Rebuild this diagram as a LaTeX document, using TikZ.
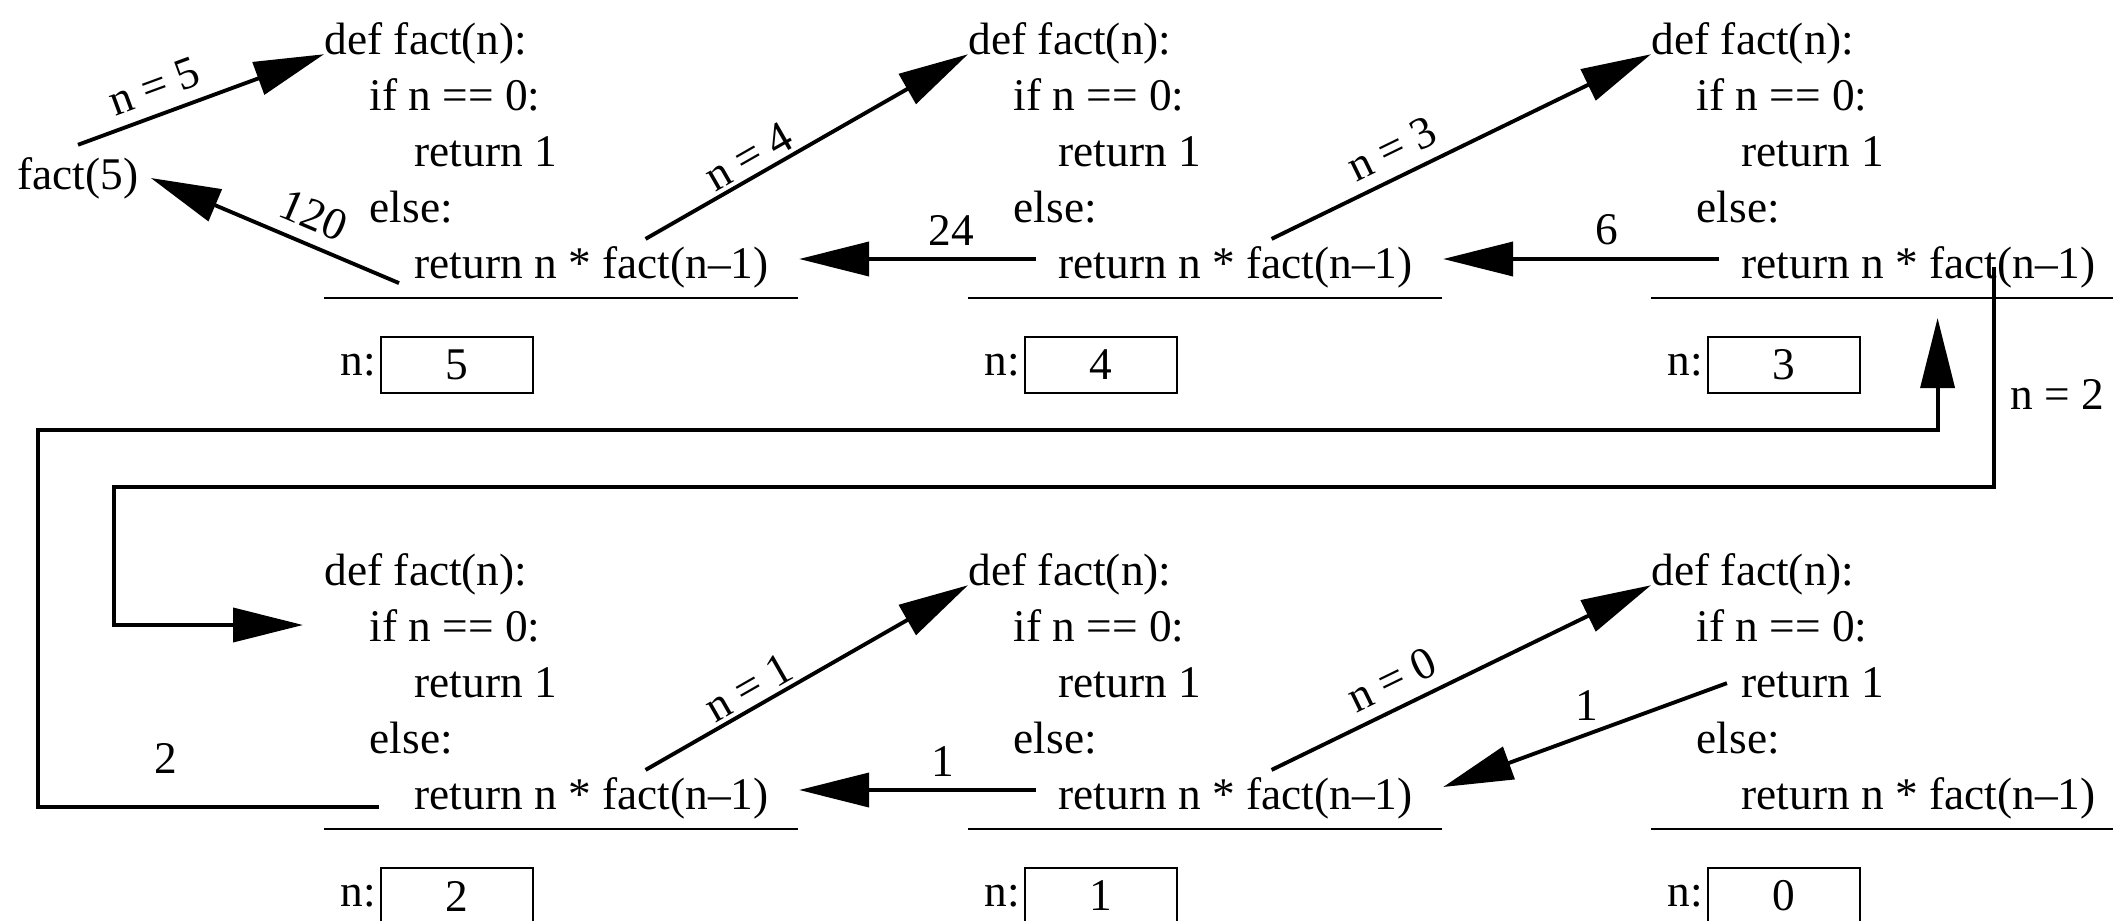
\documentclass[tikz,border=0pt]{standalone}
\usepackage{fontspec}
\setmainfont{Liberation Serif}
\usetikzlibrary{arrows.meta}
\begin{document}
\begin{tikzpicture}[every node/.style={font=\fontsize{12.9}{15}\selectfont}]
  \tikzset{
    code/.style={anchor=west,inner sep=0pt,text height=9pt,text depth=2.6pt},
    sepline/.style={line width=0.4pt},
    valbox/.style={draw,line width=0.45pt,minimum width=1.52cm,minimum height=0.56cm,inner sep=0pt},
    arr/.style={line width=1.1pt,-{Triangle[length=7mm,width=3.4mm]}}
  }
  \useasboundingbox (0,0) rectangle (21.13,-9.21);
  \foreach \f/\x/\y/\v in {t1/3.24/-0.43/5, t2/9.68/-0.43/4, t3/16.51/-0.43/3,
                           b1/3.24/-5.74/2, b2/9.68/-5.74/1, b3/16.51/-5.74/0} {
    \node[code] (\f-def) at (\x,\y) {def fact(n):};
    \node[code] (\f-if) at (\x+0.45,\y-0.56) {if n == 0:};
    \node[code] (\f-r1) at (\x+0.90,\y-1.12) {return 1};
    \node[code] (\f-else) at (\x+0.45,\y-1.68) {else:};
    \node[code] (\f-rn) at (\x+0.90,\y-2.24) {return n * fact(n--1)};
    \draw[sepline] (\x,\y-2.55) -- (\x+4.74,\y-2.55);
    \node[valbox] (\f-box) at (\x+1.33,\y-3.22) {\v};
    \node[anchor=east,inner sep=1pt] (\f-n) at (\f-box.west) {n:};
  }
  \node (fact5) at (0.78,-1.78) {fact(5)};
  \coordinate (loopA) at (1.14,-4.87);
  \coordinate (loopB) at (0.38,-4.30);
  % calls
  \draw[arr] (fact5.north) -- node[sloped,above,pos=0.35] {n = 5} (t1-def.base west);
  \draw[arr] ([xshift=5.4mm,yshift=0.7mm]t1-rn.north) -- node[sloped,above,pos=0.35,inner sep=1pt] {n = 4} (t2-def.base west);
  \draw[arr] ([xshift=3.6mm,yshift=0.7mm]t2-rn.north) -- node[sloped,above,pos=0.35] {n = 3} (t3-def.base west);
  \draw[arr] ([xshift=5.4mm,yshift=0.7mm]b1-rn.north) -- node[sloped,above,pos=0.35,inner sep=1pt] {n = 1} (b2-def.base west);
  \draw[arr] ([xshift=3.6mm,yshift=0.7mm]b2-rn.north) -- node[sloped,above,pos=0.35] {n = 0} (b3-def.base west);
  \draw[arr,shorten >=6.6mm] ([xshift=7.5mm]t3-rn.center) |- node[pos=0.29,right=1pt] {n = 2} (loopA) |- ([yshift=0.5mm]b1-if.west);
  % returns
  \draw[arr] ([shift={(-1.5mm,0.5mm)}]t1-rn.south west) -- node[sloped,above,pos=0.39] {120} (fact5.east);
  \draw[arr,shorten <=2.2mm,shorten >=3mm] ([yshift=0.8mm]t2-rn.west) -- node[above,pos=0.37] {24} ([yshift=0.8mm]t1-rn.east);
  \draw[arr,shorten <=2.2mm,shorten >=3mm] ([yshift=0.8mm]t3-rn.west) -- node[above,pos=0.41] {6} ([yshift=0.8mm]t2-rn.east);
  \draw[arr,shorten <=2.2mm,shorten >=3mm] ([yshift=0.8mm]b2-rn.west) -- node[above,pos=0.40] {1} ([yshift=0.8mm]b1-rn.east);
  \draw[arr,shorten <=1.5mm,shorten >=3.2mm] ([yshift=0.8mm]b3-r1.west) -- node[above,pos=0.47] {1} (b2-rn.east);
  \draw[arr,shorten <=3.5mm,shorten >=3mm] ([yshift=-0.9mm]b1-rn.west) -| node[pos=0.33,above=2mm] {2} (loopB) -| ([xshift=1.9mm]t3-rn.south);
\end{tikzpicture}
\end{document}
